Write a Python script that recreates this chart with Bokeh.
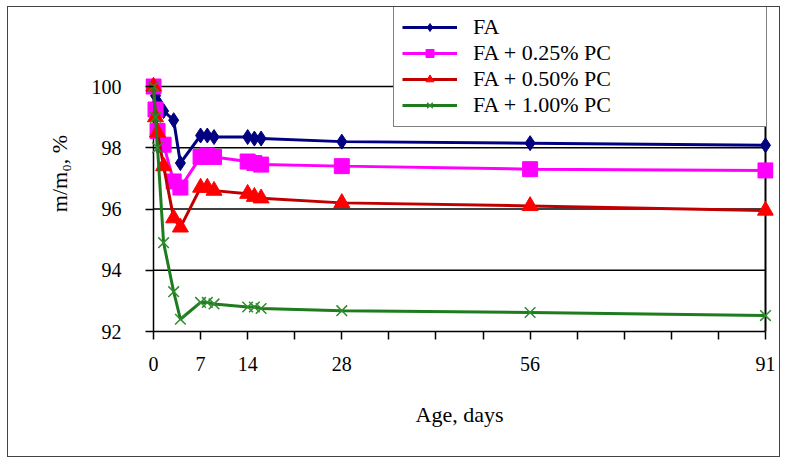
from bokeh.plotting import figure
from bokeh.models import Range1d, LinearAxis, FixedTicker, Legend, LegendItem
from bokeh.embed import file_html
from bokeh.resources import INLINE

# ---- data ----
days = [0, 0.3, 0.6, 1.5, 3, 4, 7, 8, 9, 14, 15, 16, 28, 56, 91]
fa = [100, 99.7, 99.5, 99.2, 98.9, 97.5, 98.4, 98.4, 98.35, 98.35, 98.3, 98.3, 98.2, 98.15, 98.08]
fa_025 = [100, 99.25, 98.55, 98.1, 96.9, 96.7, 97.7, 97.75, 97.7, 97.55, 97.5, 97.45, 97.4, 97.3, 97.26]
fa_050 = [100, 99.0, 98.5, 97.4, 95.7, 95.4, 96.7, 96.7, 96.6, 96.5, 96.4, 96.35, 96.2, 96.1, 95.95]
fa_100 = [100, 99.0, 98.0, 94.9, 93.3, 92.4, 92.95, 92.95, 92.9, 92.8, 92.8, 92.75, 92.68, 92.62, 92.52]
series_names = ["FA", "FA + 0.25% PC", "FA + 0.50% PC", "FA + 1.00% PC"]
series_values = [fa, fa_025, fa_050, fa_100]

x_ticks = list(range(0, 92, 7))
x_tick_labels = {0: "0", 7: "7", 14: "14", 28: "28", 56: "56", 91: "91"}
y_ticks = [92, 94, 96, 98, 100]

# ---- styles ----
FONT = "Liberation Serif"
line_colors = ["#000080", "#FF00FF", "#C00000", "#1E7B1E"]
marker_fill = ["#000080", "#FF00FF", "#FF0000", "#2E8B2E"]
markers = ["diamond", "square", "triangle", "x"]
marker_sizes = [15, 15, 16, 15]

x_lo, x_hi = x_ticks[0], x_ticks[-1]
y_lo, y_hi = y_ticks[0], y_ticks[-1]

# pixel scale: 6.725 px/day, 30.625 px/unit
px_x = 6.725
px_y = 30.625
p = figure(width=773, height=451, output_backend="svg", toolbar_location=None,
           x_range=Range1d(x_lo - 8 / px_x, x_hi + 8 / px_x),
           y_range=Range1d(y_lo - 8 / px_y, y_hi + 79 / px_y),
           x_axis_type=None, y_axis_type=None,
           min_border_left=137, min_border_right=8, min_border_top=0, min_border_bottom=119,
           background_fill_color="white", border_fill_color="white")
p.outline_line_color = None
p.styles = {"border": "1px solid #444444", "margin-left": "7px", "margin-top": "6px"}

# gridlines, axis lines & right border
gy = y_ticks[1:]
p.segment(x0=[x_lo] * len(gy), y0=gy, x1=[x_hi] * len(gy), y1=gy, line_color="black", line_width=1.5)
p.segment(x0=[x_lo, x_lo], y0=[y_lo, y_lo], x1=[x_hi, x_lo], y1=[y_lo, y_hi], line_color="black", line_width=1.5)
p.segment(x0=[x_hi], y0=[y_lo], x1=[x_hi], y1=[y_hi], line_color="black", line_width=2)

items = []
for name, vals, lc, mf, mk, ms in zip(series_names, series_values, line_colors, marker_fill, markers, marker_sizes):
    lr = p.line(days, vals, line_color=lc, line_width=3)
    if mk == "x":
        mr = p.scatter(days, vals, marker=mk, size=ms, line_color=mf, line_width=1.5)
    else:
        mr = p.scatter(days, vals, marker=mk, size=ms, fill_color=mf, line_color=mf, line_width=1)
    items.append(LegendItem(label=name, renderers=[lr, mr]))

xaxis = LinearAxis(bounds=(x_lo, x_hi), ticker=FixedTicker(ticks=x_ticks),
                   major_label_overrides={t: x_tick_labels.get(t, "") for t in x_ticks},
                   axis_label="Age, days")
yaxis = LinearAxis(bounds=(y_lo, y_hi), ticker=FixedTicker(ticks=y_ticks),
                   axis_label="m/m\u2080, %")
for ax in (xaxis, yaxis):
    ax.axis_line_color = None
    ax.major_tick_line_color = "black"
    ax.major_tick_line_width = 1.5
    ax.major_tick_out = 0
    ax.major_tick_in = 8
    ax.minor_tick_line_color = None
    ax.major_label_text_font = FONT
    ax.major_label_text_font_size = "20px"
    ax.major_label_text_color = "black"
    ax.axis_label_text_font = FONT
    ax.axis_label_text_font_size = "22px"
    ax.axis_label_text_font_style = "normal"
    ax.axis_label_text_color = "black"
xaxis.major_label_standoff = 17
xaxis.axis_label_standoff = 28
yaxis.major_label_standoff = 24
yaxis.axis_label_standoff = 17
p.add_layout(xaxis, "below")
p.add_layout(yaxis, "left")

legend = Legend(items=items, location=(248, 212), padding=8, spacing=0, margin=0,
                glyph_width=55, glyph_height=20, label_height=24, label_standoff=16,
                label_width=285, label_text_font=FONT, label_text_font_size="22px",
                label_text_color="black", border_line_color="black", border_line_width=1,
                background_fill_color="white", background_fill_alpha=1.0)
p.add_layout(legend, "center")

open("out.html", "w").write(file_html(p, INLINE))
